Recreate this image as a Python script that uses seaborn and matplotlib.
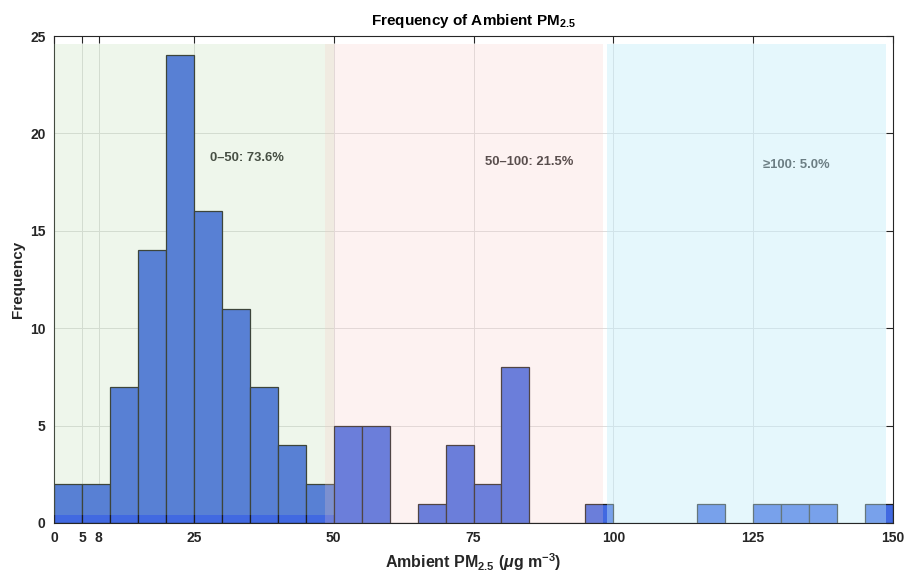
import numpy as np
import pandas as pd
import matplotlib
matplotlib.use("Agg")
import matplotlib.pyplot as plt
import seaborn as sns
from matplotlib.patches import Rectangle

# ---- data ----
bin_edges = list(range(0, 155, 5))
bin_counts = [2, 2, 7, 14, 24, 16, 11, 7, 4, 2,     # 0-50
              5, 5, 0, 1, 4, 2, 8, 0, 0, 1,         # 50-100
              0, 0, 0, 1, 0, 1, 1, 1, 0, 1]         # 100-150
x_ticks = [0, 5, 8, 25, 50, 75, 100, 125, 150]
y_ticks = [0, 5, 10, 15, 20, 25]
band_labels = ["0\u201350: 73.6%", "50\u2013100: 21.5%", "\u2265100: 5.0%"]
band_label_pos = [(27.9, 18.75), (77.1, 18.55), (126.7, 18.4)]
bands = [  # (x0, x1, y0, y1, color, alpha)
    (0.0, 50.0, 0.4, 24.6, (178/255, 217/255, 164/255), 0.21),
    (48.5, 98.2, 0.0, 24.6, (248/255, 200/255, 196/255), 0.23),
    (98.9, 148.8, 0.0, 24.6, (195/255, 237/255, 249/255), 0.43),
]

centers = [(a + b) / 2 for a, b in zip(bin_edges[:-1], bin_edges[1:])]
df = pd.DataFrame({"pm": centers, "n": bin_counts})

sns.set_style("white")
plt.rcParams["font.family"] = ["Liberation Sans", "DejaVu Sans"]
plt.rcParams["mathtext.fontset"] = "custom"
plt.rcParams["mathtext.rm"] = "Liberation Sans:bold"
plt.rcParams["mathtext.bf"] = "Liberation Sans:bold"
plt.rcParams["mathtext.it"] = "Liberation Sans:italic:bold"

fig = plt.figure(figsize=(9.05, 5.77), dpi=100)
ax = fig.add_axes([54/905, 1 - 523/577, (893 - 54)/905, (523 - 36)/577])

sns.histplot(data=df, x="pm", weights="n", bins=bin_edges, ax=ax,
             color="#4169e1", alpha=1.0, edgecolor="#1e1e1e", linewidth=0.9,
             zorder=2)

for (x0, x1, y0, y1, c, a) in bands:
    ax.add_patch(Rectangle((x0, y0), x1 - x0, y1 - y0, facecolor=c,
                           alpha=a, edgecolor="none", zorder=4))

for lab, (tx, ty) in zip(band_labels, band_label_pos):
    ax.text(tx, ty, lab, fontsize=9.4, fontweight="bold", color="#2a2a2a",
            ha="left", va="center", zorder=3)

ax.set_xlim(0, 150)
ax.set_ylim(0, 25)
ax.set_xticks(x_ticks)
ax.set_yticks(y_ticks)
ax.set_xticklabels([str(t) for t in x_ticks])
ax.set_yticklabels([str(t) for t in y_ticks])
ax.grid(True, color="#dcdcdc", linewidth=0.7, zorder=0)
ax.set_axisbelow(True)

ax.tick_params(axis="both", direction="in", length=5, width=0.8,
               top=True, right=True, labelsize=10, colors="#262626",
               pad=6)
for lbl in ax.get_xticklabels() + ax.get_yticklabels():
    lbl.set_fontweight("bold")
for sp in ax.spines.values():
    sp.set_visible(True)
    sp.set_color("#262626")
    sp.set_linewidth(0.8)

ax.set_title(r"Frequency of Ambient PM$_{2.5}$", fontsize=11,
             fontweight="bold", color="#000000", pad=8)
ax.set_xlabel(r"Ambient PM$_{2.5}$ ($\mu$g m$^{-3}$)", fontsize=11.5,
              fontweight="bold", color="#262626", labelpad=4)
ax.set_ylabel("Frequency", fontsize=11, fontweight="bold", color="#262626",
              labelpad=4)

fig.savefig("out.png", dpi=100)
